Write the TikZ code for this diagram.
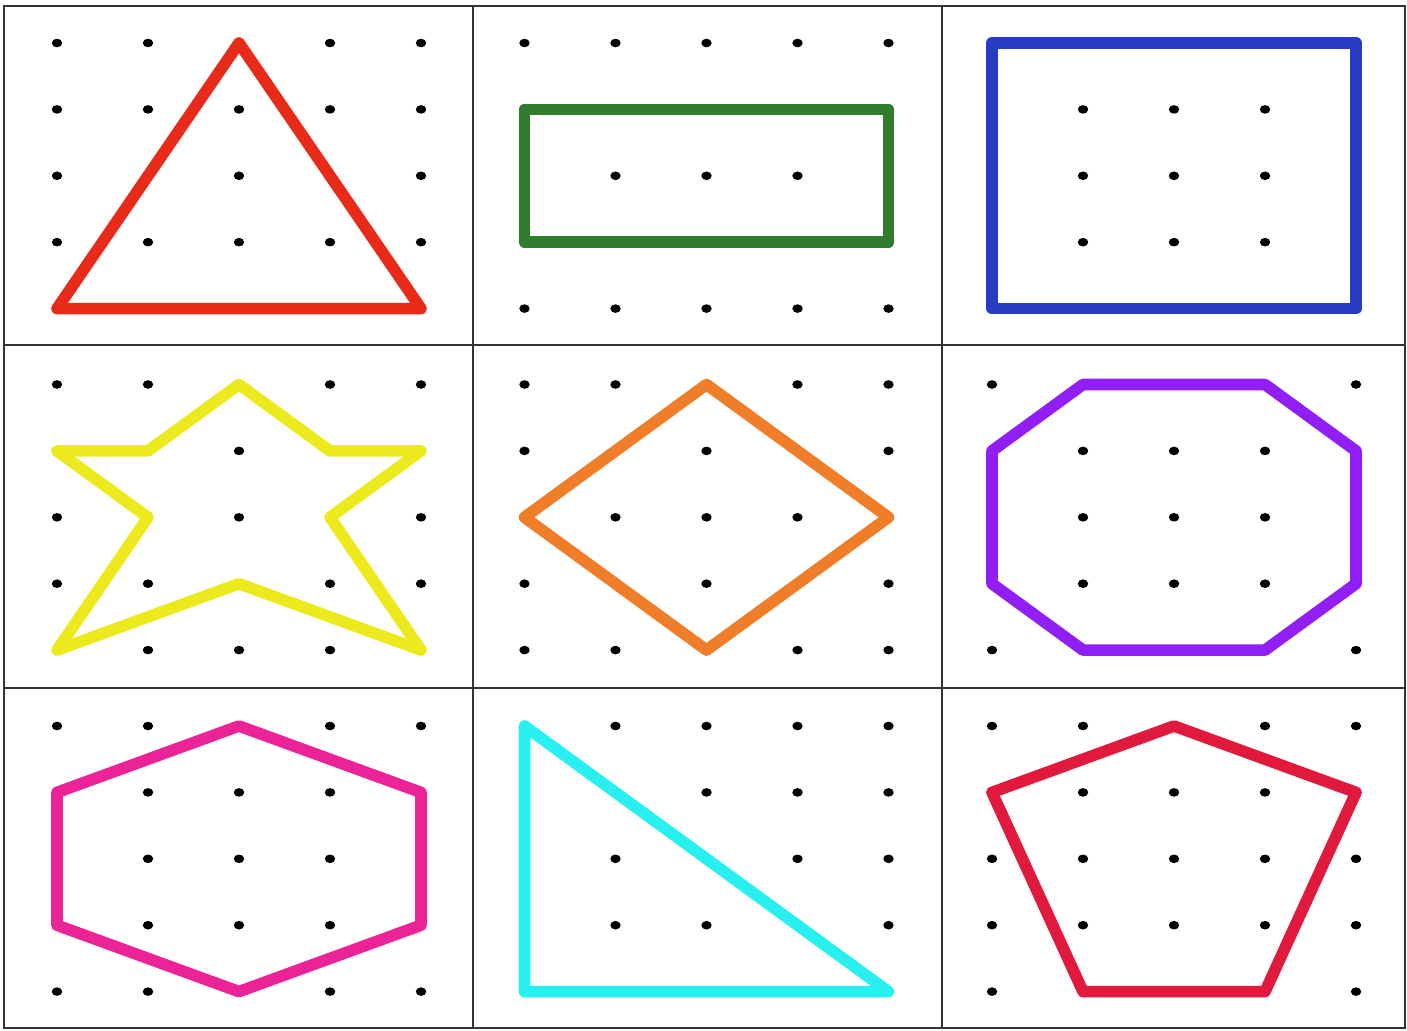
\documentclass[tikz,border=0pt]{standalone}
\usepackage{xcolor}
\usepackage{tikz}
\usetikzlibrary{calc}
\definecolor{gbred}{RGB}{232,42,24}
\definecolor{gbgreen}{RGB}{50,125,45}
\definecolor{gbblue}{RGB}{40,60,195}
\definecolor{gbyellow}{RGB}{236,234,28}
\definecolor{gborange}{RGB}{240,125,40}
\definecolor{gbpurple}{RGB}{145,30,245}
\definecolor{gbmagenta}{RGB}{235,35,150}
\definecolor{gbcyan}{RGB}{40,240,240}
\definecolor{gbcrimson}{RGB}{225,25,60}

\begin{document}
\begin{tikzpicture}[
  x=0.01cm, y=-0.01cm,
  frame/.style={draw=black!80, line width=0.7pt},
  band/.style={line width=3.3pt, line join=round, line cap=round},
]

\useasboundingbox (0,0) rectangle (1407,1031);

% ── Board frame ──
\draw[frame] (4,6) rectangle (1405,1028);
\draw[frame] (473,6) -- (473,1028);
\draw[frame] (942,6) -- (942,1028);
\draw[frame] (4,345) -- (1405,345);
\draw[frame] (4,688) -- (1405,688);

% ── Pegs: g<row><col>-<i><j> ──
\foreach \r in {0,1,2}
  \foreach \c in {0,1,2}
    \foreach \i in {0,...,4}
      \foreach \j in {0,...,4} {
        \coordinate (g\r\c-\i\j) at ({57+467.5*\c+91*\i},{43+341.5*\r+66.4*\j});
        \fill (g\r\c-\i\j) circle[x radius=0.052cm, y radius=0.043cm];
      }

% ── Row 1 ──
\draw[band, gbred]    (g00-20) -- (g00-04) -- (g00-44) -- cycle;
\draw[band, gbgreen]  (g01-01) -- (g01-41) -- (g01-43) -- (g01-03) -- cycle;
\draw[band, gbblue]   (g02-00) -- (g02-40) -- (g02-44) -- (g02-04) -- cycle;

% ── Row 2 ──
\draw[band, gbyellow] (g10-01) -- (g10-11) -- (g10-20) -- (g10-31) -- (g10-41)
  -- (g10-32) -- (g10-44) -- (g10-23) -- (g10-04) -- (g10-12) -- cycle;
\draw[band, gborange] (g11-20) -- (g11-42) -- (g11-24) -- (g11-02) -- cycle;
\draw[band, gbpurple] (g12-10) -- (g12-30) -- (g12-41) -- (g12-43) -- (g12-34)
  -- (g12-14) -- (g12-03) -- (g12-01) -- cycle;

% ── Row 3 ──
\draw[band, gbmagenta] (g20-20) -- (g20-41) -- (g20-43) -- (g20-24) -- (g20-03)
  -- (g20-01) -- cycle;
\draw[band, gbcyan]    (g21-00) -- (g21-04) -- (g21-44) -- cycle;
\draw[band, gbcrimson] (g22-20) -- (g22-41) -- (g22-34) -- (g22-14) -- (g22-01) -- cycle;

\end{tikzpicture}
\end{document}
